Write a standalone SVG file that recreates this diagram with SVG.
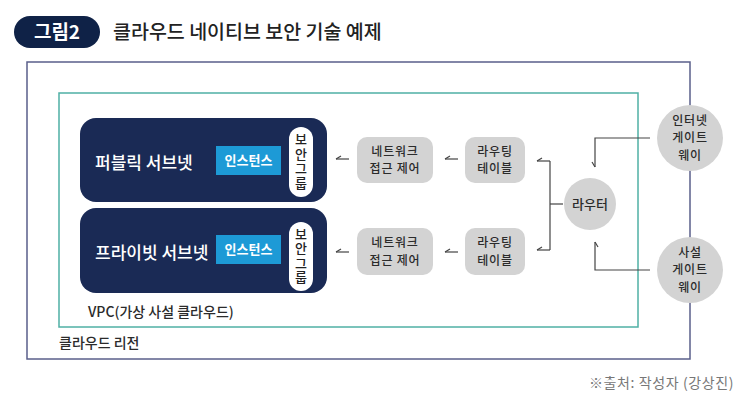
<svg xmlns="http://www.w3.org/2000/svg" width="750" height="403" viewBox="0 0 750 403">
<style>
  text { font-family: "Noto Sans CJK KR", "Noto Sans", sans-serif; }
  .lbl { font-size: 13px; fill: #2b2b2b; font-weight: 500; }
  .sm { font-size: 12px; letter-spacing: 0.8px; }
  .big { font-size: 14px; }
  .c { text-anchor: middle; }
  .sub { fill: #1a2a55; }
  .subt { font-size: 17px; fill: #ffffff; font-weight: 500; }
  .inst { fill: #1d9ad6; }
  .instt { font-size: 13px; fill: #ffffff; font-weight: 700; text-anchor: middle; }
  .sg { fill: #ffffff; }
  .sgt { font-size: 13px; fill: #222; font-weight: 500; text-anchor: middle; writing-mode: vertical-rl; text-orientation: upright; letter-spacing: 1.5px; }
  .gray { fill: #d3d3d3; }
  .conn { fill: none; stroke: #444; stroke-width: 1.2; }
</style>
<defs>
  <marker id="half" markerWidth="10" markerHeight="10" refX="0" refY="0" viewBox="-8 -5 10 10" orient="auto" markerUnits="userSpaceOnUse">
    <path d="M-5,3 L0,0" fill="none" stroke="#444" stroke-width="1.2"/>
  </marker>
</defs>
<rect width="750" height="403" fill="#ffffff"/>

<g id="title">
  <rect x="14" y="16" width="86" height="32" rx="16" fill="#0f2247"/>
  <text x="57" y="39" font-size="19" font-weight="700" fill="#ffffff" text-anchor="middle">그림2</text>
  <text x="113" y="39" font-size="19.5" font-weight="500" fill="#222">클라우드 네이티브 보안 기술 예제</text>
</g>

<g id="region">
  <rect x="27" y="62" width="663" height="297" fill="none" stroke="#5a5f8a" stroke-width="1.5"/>
  <text class="lbl big" x="59" y="348">클라우드 리전</text>
</g>

<g id="vpc">
  <rect x="59" y="93" width="579" height="234" fill="none" stroke="#4fb0a5" stroke-width="1.5"/>
  <text class="lbl big" x="88" y="317">VPC(가상 사설 클라우드)</text>
</g>

<g id="connectors">
  <path class="conn" d="M349,159 H336" marker-end="url(#half)"/>
  <path class="conn" d="M458,159 H445" marker-end="url(#half)"/>
  <path class="conn" d="M349,252 H336" marker-end="url(#half)"/>
  <path class="conn" d="M458,252 H445" marker-end="url(#half)"/>
  <path class="conn" d="M563,204 H550"/>
  <path class="conn" d="M550,161 V250"/>
  <path class="conn" d="M550,161 H537" marker-end="url(#half)"/>
  <path class="conn" d="M550,250 H537" marker-end="url(#half)"/>
  <path class="conn" d="M650,138 H595 V167" marker-end="url(#half)"/>
  <path class="conn" d="M650,270 H595 V242" marker-end="url(#half)"/>
</g>

<g id="public-subnet">
  <rect class="sub" x="80" y="118" width="247" height="84" rx="16"/>
  <text class="subt" x="95" y="169">퍼블릭 서브넷</text>
</g>
<g id="public-instance">
  <rect class="inst" x="216" y="146" width="65" height="29"/>
  <text class="instt" x="248.5" y="165">인스턴스</text>
</g>
<g id="public-sg">
  <rect class="sg" x="289" y="127" width="24" height="70" rx="12"/>
  <text class="sgt" x="301" y="162">보안그룹</text>
</g>

<g id="private-subnet">
  <rect class="sub" x="80" y="208" width="247" height="85" rx="16"/>
  <text class="subt" x="95" y="259">프라이빗 서브넷</text>
</g>
<g id="private-instance">
  <rect class="inst" x="216" y="235" width="65" height="29"/>
  <text class="instt" x="248.5" y="254">인스턴스</text>
</g>
<g id="private-sg">
  <rect class="sg" x="289" y="222" width="24" height="69" rx="12"/>
  <text class="sgt" x="301" y="256.5">보안그룹</text>
</g>

<g id="nacl-1">
  <rect class="gray" x="357" y="137" width="76" height="46" rx="10"/>
  <text class="lbl sm c" x="395" y="155.5">네트워크<tspan x="395" dy="17.5">접근 제어</tspan></text>
</g>
<g id="route-1">
  <rect class="gray" x="465" y="137" width="60" height="46" rx="10"/>
  <text class="lbl sm c" x="495" y="155.5">라우팅<tspan x="495" dy="17.5">테이블</tspan></text>
</g>
<g id="nacl-2">
  <rect class="gray" x="357" y="228" width="76" height="47" rx="10"/>
  <text class="lbl sm c" x="395" y="247">네트워크<tspan x="395" dy="17.5">접근 제어</tspan></text>
</g>
<g id="route-2">
  <rect class="gray" x="465" y="228" width="60" height="47" rx="10"/>
  <text class="lbl sm c" x="495" y="247">라우팅<tspan x="495" dy="17.5">테이블</tspan></text>
</g>

<g id="router">
  <circle class="gray" cx="590" cy="204" r="26"/>
  <text class="lbl c" x="590" y="209">라우터</text>
</g>
<g id="internet-gateway">
  <circle class="gray" cx="690" cy="138" r="33"/>
  <text class="lbl sm c" x="690" y="124.8">인터넷<tspan x="690" dy="17.5">게이트</tspan><tspan x="690" dy="17.5">웨이</tspan></text>
</g>
<g id="private-gateway">
  <circle class="gray" cx="690" cy="270" r="33"/>
  <text class="lbl sm c" x="690" y="256.8">사설<tspan x="690" dy="17.5">게이트</tspan><tspan x="690" dy="17.5">웨이</tspan></text>
</g>

<text x="734" y="388" font-size="14" letter-spacing="0.6" fill="#777" text-anchor="end">※출처: 작성자 (강상진)</text>
</svg>
